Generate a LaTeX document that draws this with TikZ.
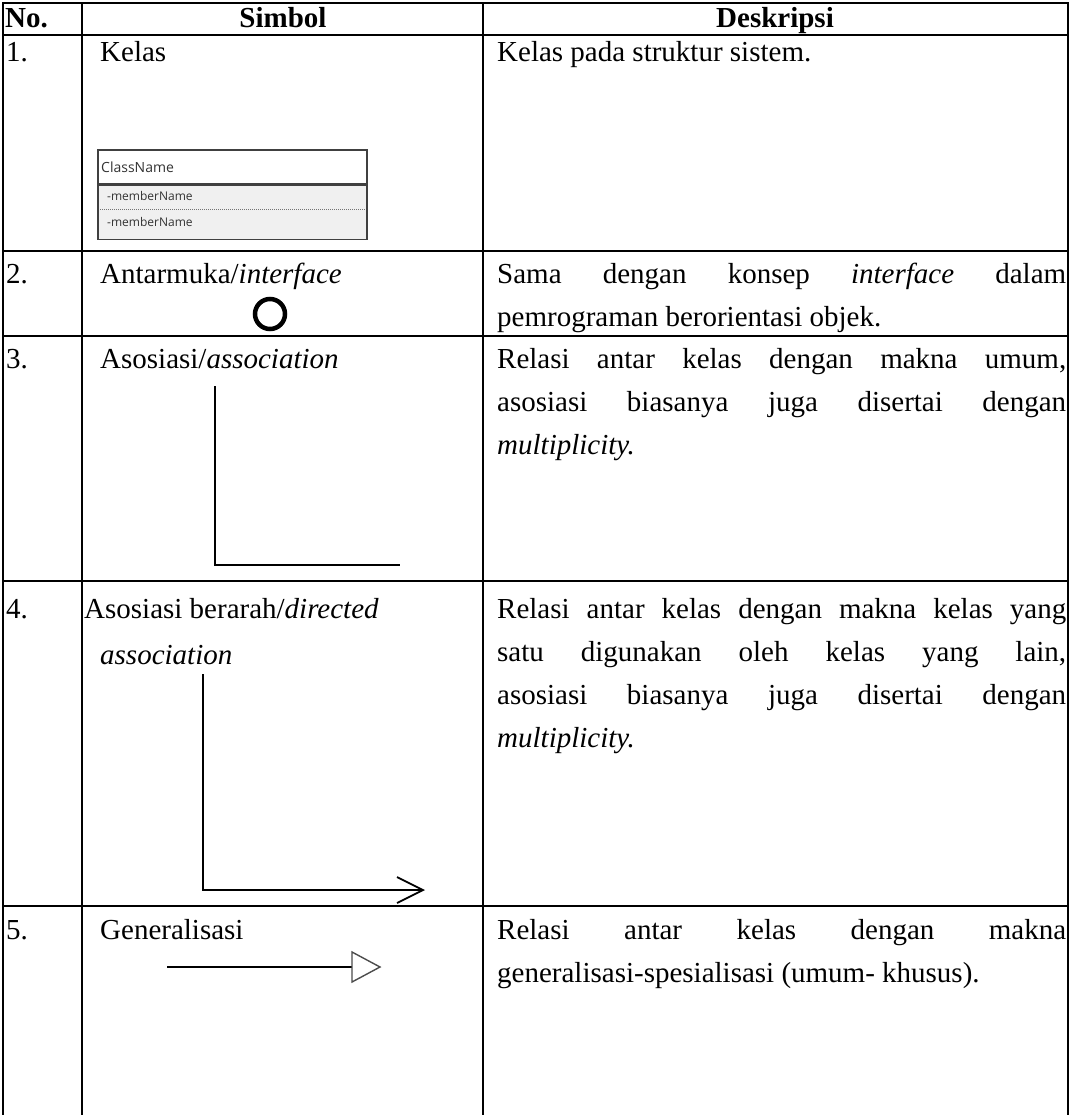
\documentclass[tikz,border=0pt]{standalone}
\usepackage{fontspec}
\setmainfont{Liberation Serif}
\newfontfamily\uifont{Open Sans}
\tikzset{
  txt/.style={anchor=base west, inner sep=0pt, font=\fontsize{29}{41}\selectfont},
  hdr/.style={anchor=base, inner sep=0pt, font=\fontsize{29}{41}\selectfont\bfseries},
  grid/.style={line width=1.6pt},
  sym/.style={line width=1.8pt},
}
\newcommand{\jl}[1]{\makebox[569pt][s]{#1}}
\begin{document}
\begin{tikzpicture}[x=1pt,y=-1pt]
\useasboundingbox (0,0) rectangle (1077,1115);
% grid
\draw[grid] (3,1115) -- (3,3) -- (1068,3) -- (1068,1115);
\draw[grid] (82,3) -- (82,1115);
\draw[grid] (483,3) -- (483,1115);
\foreach \yy in {35,251,336,581,906} \draw[grid] (3,\yy) -- (1068,\yy);
% header
\node[hdr, anchor=base west] (h1) at (5,28) {No.};
\node[hdr] (h2) at (283,28) {Simbol};
\node[hdr] (h3) at (775,28) {Deskripsi};
% row 1
\node[txt] (n1) at (6,62) {1.};
\node[txt] (s1) at (100,62) {Kelas};
\node[txt] (d1) at (497,62) {Kelas pada struktur sistem.};
\node[draw=black!75, line width=1.2pt, fill=white, minimum width=269pt, minimum height=34pt, inner sep=0pt] (cn) at (232.5,167) {};
\node[draw=black!75, line width=1.2pt, fill=black!6, minimum width=269pt, minimum height=54pt, inner sep=0pt, anchor=north] (cm) at (cn.south) {};
\node[anchor=west, inner sep=0pt, font=\uifont\fontsize{14}{16}\selectfont, text=black!80] (cnt) at (101,167) {ClassName};
\node[anchor=west, inner sep=0pt, font=\uifont\fontsize{12}{14}\selectfont, text=black!80] (m1) at (107,196) {-memberName};
\node[anchor=west, inner sep=0pt, font=\uifont\fontsize{12}{14}\selectfont, text=black!80] (m2) at (107,222) {-memberName};
\path (cm.west) ++(3,-3) coordinate (dl) (cm.east) ++(-3,-3) coordinate (dr);
\draw[black!55, line width=0.8pt, dash pattern=on 1pt off 1pt] (dl) -- (dr);
% row 2
\node[txt] (n2) at (6,283) {2.};
\node[txt] (s2) at (100,283) {Antarmuka/\textit{interface}};
\node[txt] (d2a) at (497,283) {\jl{Sama dengan konsep \textit{interface} dalam}};
\node[txt] (d2b) at (497,326) {pemrograman berorientasi objek.};
\node[circle, draw, line width=4.5pt, minimum size=30pt, inner sep=0pt] (iface) at (270,314) {};
% row 3
\node[txt] (n3) at (6,368) {3.};
\node[txt] (s3) at (100,368) {Asosiasi/\textit{association}};
\node[txt] (d3a) at (497,368) {\jl{Relasi antar kelas dengan makna umum,}};
\node[txt] (d3b) at (497,411) {\jl{asosiasi biasanya juga disertai dengan}};
\node[txt] (d3c) at (497,454) {\textit{multiplicity.}};
\coordinate (a1) at (215,386);
\coordinate (a2) at (215,565);
\coordinate (a3) at (400,565);
\draw[sym] (a1) -- (a2) -- (a3);
% row 4
\node[txt] (n4) at (6,618) {4.};
\node[txt] (s4a) at (84,618) {Asosiasi berarah/\textit{directed}};
\node[txt] (s4b) at (100,664) {\textit{association}};
\node[txt] (d4a) at (497,618) {\jl{Relasi antar kelas dengan makna kelas yang}};
\node[txt] (d4b) at (497,661) {\jl{satu digunakan oleh kelas yang lain,}};
\node[txt] (d4c) at (497,704) {\jl{asosiasi biasanya juga disertai dengan}};
\node[txt] (d4d) at (497,747) {\textit{multiplicity.}};
\coordinate (b1) at (203,674);
\coordinate (b2) at (203,890);
\coordinate (b3) at (423,890);
\coordinate (b4) at (397,877);
\coordinate (b5) at (397,903);
\draw[sym] (b1) -- (b2) -- (b3);
\draw[sym] (b4) -- (b3) -- (b5);
% row 5
\node[txt] (n5) at (6,939) {5.};
\node[txt] (s5) at (100,939) {Generalisasi};
\node[txt] (d5a) at (497,939) {\jl{Relasi antar kelas dengan makna}};
\node[txt] (d5b) at (497,982) {generalisasi-spesialisasi (umum- khusus).};
\coordinate (g1) at (167,967);
\coordinate (g2) at (352,967);
\draw[line width=1.4pt] (g1) -- (g2);
\draw[line width=1.4pt, black!70] (g2) ++(0,-15) -- ++(28,15) -- ++(-28,15) -- cycle;
\end{tikzpicture}
\end{document}
